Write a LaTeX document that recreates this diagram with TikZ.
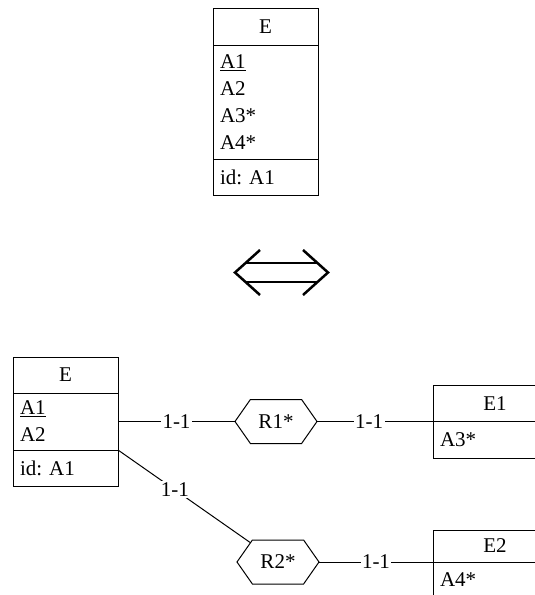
\documentclass[tikz,border=0pt]{standalone}
\usepackage{fontspec}
\setmainfont{Liberation Serif}
\frenchspacing
\usetikzlibrary{positioning,shapes.symbols}

\begin{document}
\begin{tikzpicture}[x=1pt,y=-1pt,line width=1pt,
  every node/.style={font=\fontsize{21}{27}\selectfont, outer sep=0pt},
  head/.style={draw, minimum width=105pt, inner sep=0pt},
  attrs/.style={draw, minimum width=105pt, text width=91pt, inner xsep=7pt, inner ysep=0pt, align=left},
  rel/.style={draw, shape=signal, signal to=east and west, signal pointer angle=110, minimum width=82pt, minimum height=44pt, inner sep=0pt},
  card/.style={fill=white, inner sep=1.5pt}]
\useasboundingbox (0,0) rectangle (535,595);
\clip (0,0) rectangle (535,595);
\node[head, minimum height=37pt] (E) at (265.5,26.5) {E};
\node[attrs, minimum height=114pt, below=0pt of E] (Ea) {\underline{A1}\\A2\\A3*\\A4*};
\node[attrs, minimum height=36pt, below=0pt of Ea] (Eid) {id: A1};
\draw[line width=2.5pt] (260,250) -- (235,272.5) -- (260,295);
\draw[line width=2.5pt] (303,250) -- (328,272.5) -- (303,295);
\draw[line width=2.5pt] (245,263) -- (318,263) (245,282) -- (318,282);
\node[head, minimum height=36pt] (Eb) at (65.5,375) {E};
\node[attrs, minimum height=57pt, below=0pt of Eb] (Eba) {\underline{A1}\\A2};
\node[attrs, minimum height=36pt, below=0pt of Eba] (Ebid) {id: A1};
\node[rel] (R1) at (276,421.5) {R1*};
\node[rel] (R2) at (278,562) {R2*};
\node[head, minimum width=124pt, minimum height=36pt] (E1) at (495,403.5) {E1};
\node[attrs, minimum width=124pt, text width=110pt, minimum height=37pt, below=0pt of E1] (E1a) {A3*};
\node[head, minimum width=124pt, minimum height=32pt] (E2) at (495,546) {E2};
\node[attrs, minimum width=124pt, text width=110pt, minimum height=36pt, below=0pt of E2] (E2a) {A4*};
\draw (Eba.east) -- node[card] {1-1} (R1.west);
\draw (R1.east) -- node[card, pos=.45] {1-1} (E1.south west);
\draw (Eba.south east) -- node[card, pos=.43] {1-1} (R2);
\draw (R2.east) -- node[card] {1-1} (E2.south west);
\end{tikzpicture}
\end{document}
